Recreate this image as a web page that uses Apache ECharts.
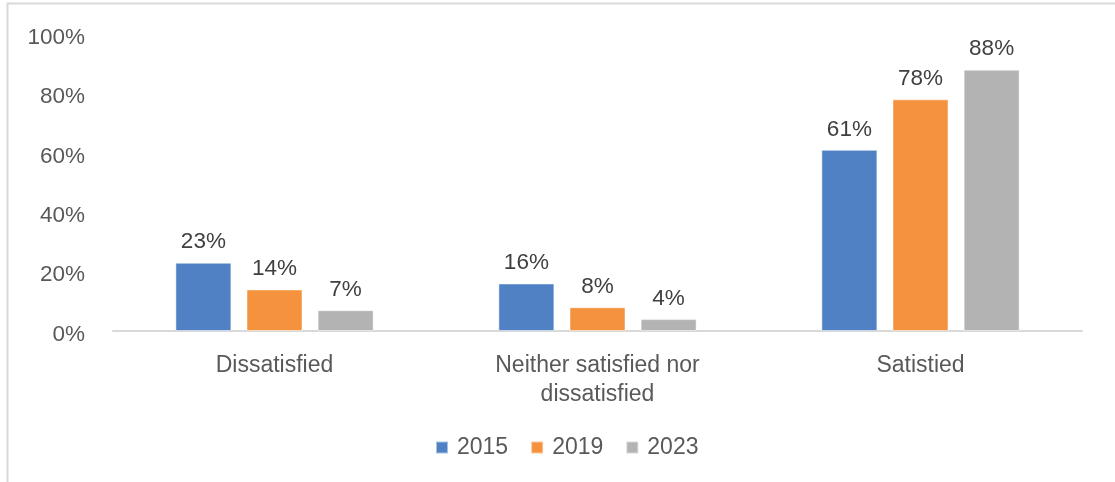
<!DOCTYPE html>
<html>
<head>
<meta charset="utf-8">
<script src="https://cdn.jsdelivr.net/npm/echarts@6/dist/echarts.min.js"></script>
<style>
  html, body { margin: 0; padding: 0; background: #fff; }
  #chart { width: 1115px; height: 482px; }
</style>
</head>
<body>
<div id="chart"></div>
<script>
// Survey satisfaction by year (percent of respondents)
const categories = ['Dissatisfied', 'Neither satisfied nor\ndissatisfied', 'Satistied'];
const years = ['2015', '2019', '2023'];
const values2015 = [23, 16, 61];
const values2019 = [14, 8, 78];
const values2023 = [7, 4, 88];
const yTicks = [0, 20, 40, 60, 80, 100];

const colors = ['#4f81c4', '#f5923e', '#b3b3b3'];
const seriesValues = [values2015, values2019, values2023];

const chart = echarts.init(document.getElementById('chart'));

const textFont = 'Liberation Sans, Arial, sans-serif';

chart.setOption({
  animation: false,
  textStyle: { fontFamily: textFont },
  graphic: [
    // outer frame, only its top and left edges fall inside the canvas
    {
      type: 'rect',
      shape: { x: 7.5, y: 3.5, width: 1200, height: 600 },
      style: { fill: 'none', stroke: '#d9d9d9', lineWidth: 2 },
      silent: true
    }
  ],
  grid: { left: 113, right: 33, top: 34, bottom: 151 },
  legend: {
    data: years,
    top: 436,
    left: 435,
    padding: 0,
    itemWidth: 12,
    itemHeight: 12,
    itemGap: 22,
    icon: 'rect',
    textStyle: { fontSize: 23, color: '#595959', fontFamily: textFont, padding: [0, 0, 0, 4] }
  },
  xAxis: {
    type: 'category',
    data: categories,
    axisLine: { lineStyle: { color: '#d9d9d9', width: 2 } },
    axisTick: { show: false },
    axisLabel: {
      fontSize: 23,
      color: '#595959',
      margin: 20,
      lineHeight: 29,
      interval: 0
    }
  },
  yAxis: {
    type: 'value',
    min: 0,
    max: 100,
    interval: 20,
    splitLine: { show: false },
    axisLine: { show: false },
    axisTick: { show: false },
    axisLabel: {
      color: '#595959',
      margin: 28,
      customValues: yTicks,
      formatter: v => '{v|' + v + '%}',
      rich: {
        v: { fontSize: 22.5, color: '#595959', fontFamily: textFont, padding: [7, 0, 0, 0] }
      }
    }
  },
  series: years.map((y, i) => ({
    name: y,
    type: 'bar',
    data: seriesValues[i],
    barWidth: 56,
    barGap: '27%',
    itemStyle: { color: colors[i], borderColor: 'rgba(255,255,255,0.5)', borderWidth: 1 },
    label: {
      show: true,
      position: 'top',
      distance: 9,
      fontSize: 22.5,
      color: '#404040',
      formatter: p => p.value + '%'
    }
  }))
});
</script>
</body>
</html>
